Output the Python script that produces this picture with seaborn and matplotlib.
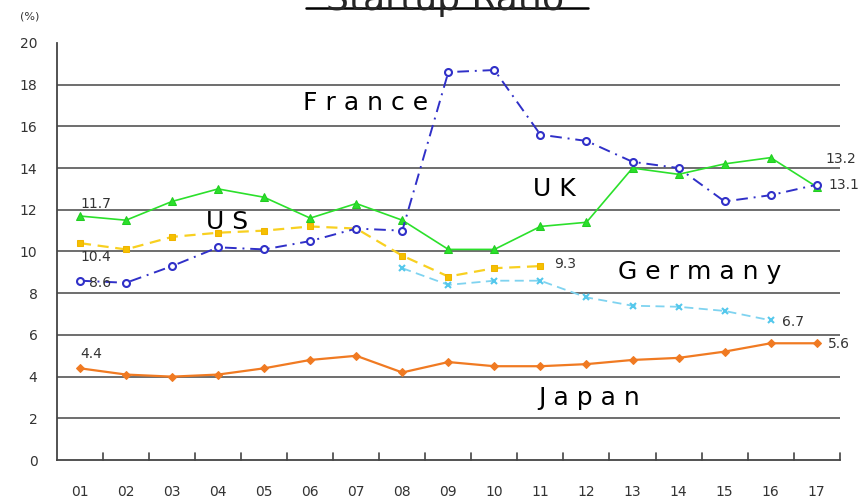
import numpy as np
import pandas as pd
import matplotlib.pyplot as plt
import seaborn as sns

# Data
years = ["01", "02", "03", "04", "05", "06", "07", "08", "09",
         "10", "11", "12", "13", "14", "15", "16", "17"]
japan = [4.4, 4.1, 4.0, 4.1, 4.4, 4.8, 5.0, 4.2, 4.7,
         4.5, 4.5, 4.6, 4.8, 4.9, 5.2, 5.6, 5.6]
uk = [11.7, 11.5, 12.4, 13.0, 12.6, 11.6, 12.3, 11.5, 10.1,
      10.1, 11.2, 11.4, 14.0, 13.7, 14.2, 14.5, 13.1]
france = [8.6, 8.5, 9.3, 10.2, 10.1, 10.5, 11.1, 11.0, 18.6,
          18.7, 15.6, 15.3, 14.3, 14.0, 12.4, 12.7, 13.2]
us = [10.4, 10.1, 10.7, 10.9, 11.0, 11.2, 11.1, 9.8, 8.8,
      9.2, 9.3, np.nan, np.nan, np.nan, np.nan, np.nan, np.nan]
germany = [np.nan, np.nan, np.nan, np.nan, np.nan, np.nan, np.nan, 9.2, 8.4,
           8.6, 8.6, 7.8, 7.4, 7.35, 7.15, 6.7, np.nan]

df = pd.DataFrame({"year": years, "Japan": japan, "UK": uk,
                   "France": france, "US": us, "Germany": germany})

sns.set_style("white")
plt.rcParams["font.family"] = ["DejaVu Sans"]

fig = plt.figure(figsize=(8.63, 4.99), dpi=100)
ax = fig.add_axes([0.066, 0.078, 0.907, 0.836])

# Japan first so the full year order is registered on the axis
styles = {
    "Japan": dict(color="#F07A22", linestyle="-", marker="D", markersize=4, linewidth=1.6,
                  markeredgecolor="#F07A22", zorder=4),
    "Germany": dict(color="#7FD3F0", linestyle=(0, (5, 3)), marker="x", markersize=5, linewidth=1.3,
                    markeredgecolor="#55C8EC", markeredgewidth=1.5, zorder=3),
    "US": dict(color="#F8D020", linestyle=(0, (5, 3)), marker="s", markersize=5, linewidth=1.6,
               markeredgecolor="#F0B400", markerfacecolor="#F5C000", zorder=4),
    "UK": dict(color="#2BE02B", linestyle="-", marker="^", markersize=6, linewidth=1.2,
               markeredgecolor="#22CC22", zorder=5),
    "France": dict(color="#3030C8", linestyle=(0, (6, 3, 1, 3)), marker="o", markersize=5,
                   markerfacecolor="white", markeredgecolor="#3030C8", markeredgewidth=1.5,
                   linewidth=1.4, zorder=6),
}
for name, st in styles.items():
    sub = df[["year", name]].dropna()
    sns.lineplot(data=sub, x="year", y=name, ax=ax, sort=False, **st)

ax.set_xlim(-0.5, len(years) - 0.5)
ax.set_ylim(0, 20)
ax.set_yticks(range(0, 21, 2))
for g in range(2, 20, 2):
    ax.axhline(g, color="#555555", linewidth=1.2, zorder=0)

ax.set_xticks(range(len(years)))
ax.set_xticklabels(years)
ax.set_xlabel("")
ax.set_ylabel("")
ax.tick_params(axis="x", length=0, pad=18, labelsize=10, labelcolor="#333333")
ax.tick_params(axis="y", length=0, pad=14, labelsize=10, labelcolor="#333333")
for xb in np.arange(0.5, len(years), 1.0):
    ax.plot([xb, xb], [0, 0.35], color="#444444", linewidth=1.2, clip_on=False)

sns.despine(ax=ax, top=True, right=True)
ax.spines["left"].set_color("#444444")
ax.spines["bottom"].set_color("#444444")
ax.spines["left"].set_linewidth(1.3)
ax.spines["bottom"].set_linewidth(1.3)

# series names
big = dict(fontsize=18, color="black", ha="center", va="center", zorder=7)
ax.text(6.2, 17.1, "F r a n c e", **big)
ax.text(10.3, 13.0, "U K", **big)
ax.text(3.2, 11.4, "U S", **big)
ax.text(13.45, 9.0, "G e r m a n y", **big)
ax.text(11.05, 3.0, "J a p a n", **big)

# value labels
small = dict(fontsize=10, color="#333333", ha="left", va="center", zorder=7)
ax.text(0.0, 12.3, "11.7", **small)
ax.text(0.0, 9.75, "10.4", **small)
ax.text(0.2, 8.5, "8.6", **small)
ax.text(0.0, 5.1, "4.4", **small)
ax.text(10.3, 9.4, "9.3", **small)
ax.text(15.25, 6.6, "6.7", **small)
ax.text(16.25, 5.55, "5.6", **small)
ax.text(16.2, 14.45, "13.2", **small)
ax.text(16.25, 13.2, "13.1", **small)

fig.text(0.023, 0.966, "(%)", fontsize=8, color="#333333", ha="left", va="center")

# title, cut at the top edge as in the original
fig.text(0.516, 1.0, "Startup Ratio", fontsize=26, ha="center", va="center")
fig.add_artist(plt.Line2D([0.354, 0.681], [0.983, 0.983], color="black", linewidth=1.8))

plt.savefig("out.png", dpi=100)
